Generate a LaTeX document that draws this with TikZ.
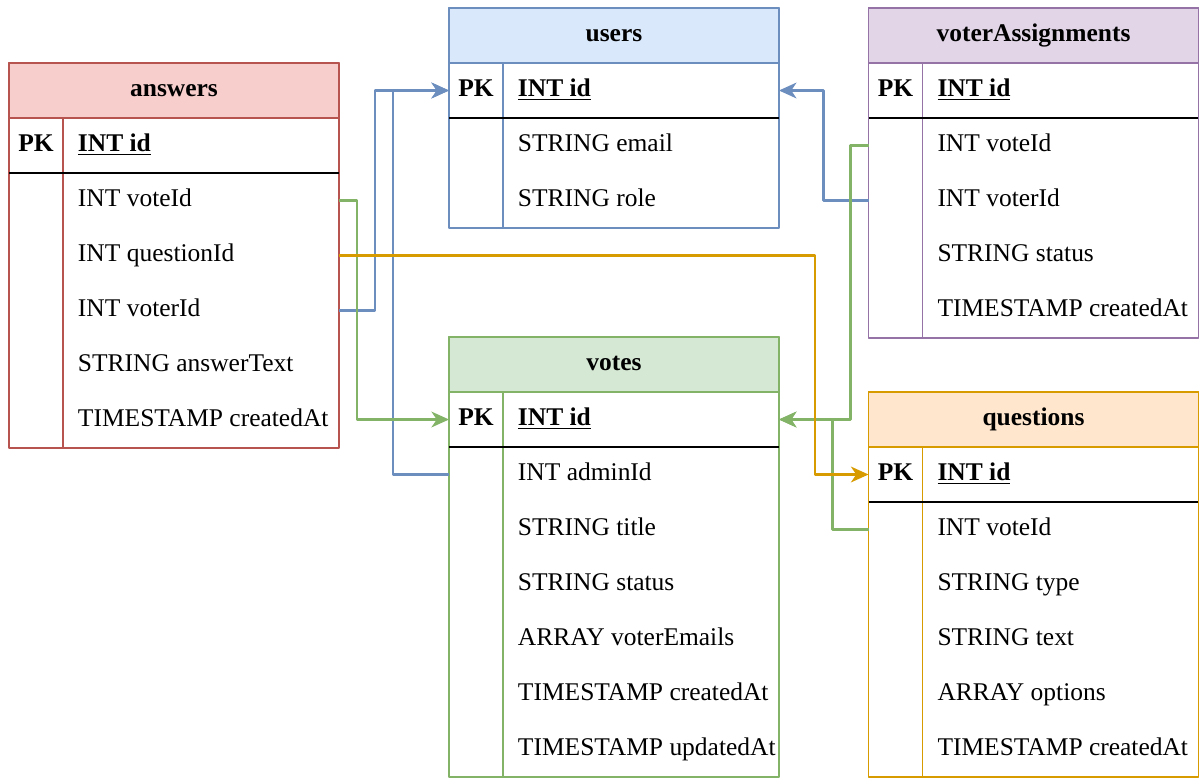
\documentclass[tikz,border=0pt]{standalone}
\usepackage{fontspec}
\setmainfont{Liberation Serif}
\usetikzlibrary{positioning,arrows.meta}

% Table colours
\definecolor{redfill}{HTML}{F8CECC}
\definecolor{redline}{HTML}{B85450}
\definecolor{bluefill}{HTML}{DAE8FC}
\definecolor{blueline}{HTML}{6C8EBF}
\definecolor{purplefill}{HTML}{E1D5E7}
\definecolor{purpleline}{HTML}{9673A6}
\definecolor{greenfill}{HTML}{D5E8D4}
\definecolor{greenline}{HTML}{82B366}
\definecolor{orangefill}{HTML}{FFE6CC}
\definecolor{orangeline}{HTML}{D79B00}

\def\tabfont{\fontsize{14.5}{17}\selectfont}
\def\fieldtext#1{\makebox[4.92cm][l]{#1}}

\begin{document}
\begin{tikzpicture}%ER diagram of the voting app
  [x=0.02cm,y=-0.02cm,line join=round,
   % Styles
   every node/.style={outer sep=0pt,text height=10pt,text depth=3pt},
   header/.style={draw,line width=1pt,minimum width=6.6cm,minimum height=1.1cm,
     inner sep=0pt,font=\tabfont\bfseries,anchor=south west},
   keycell/.style={minimum width=1.08cm,minimum height=1.1cm,inner sep=0pt,font=\tabfont\bfseries},
   fieldcell/.style={minimum height=1.1cm,inner xsep=0.3cm,inner ysep=0pt,font=\tabfont},
   frame/.style={line width=1pt},
   key line/.style={line width=1.1pt,black},
   link/.style={line width=1.2pt,-{Stealth[length=10pt,width=9pt,inset=3pt]}}]

  \useasboundingbox (0,0) rectangle (1200,778);

  % answers
  \node[keycell] (answers-key) at (36,145.5) {PK};
  \node[fieldcell,right=0pt of answers-key] (answers-id) {\fieldtext{\textbf{\underline{INT id}}}};
  \foreach \f/\n [remember=\n as \prev (initially id)] in
    {INT voteId/voteId, INT questionId/questionId, INT voterId/voterId,
     STRING answerText/answerText, TIMESTAMP createdAt/createdAt}
    \node[fieldcell,below=0pt of answers-\prev] (answers-\n) {\fieldtext{\f}};
  \node[header,fill=redfill,draw=redline] (answers) at (answers-key.north west) {answers};
  \draw[frame,redline] (answers.north west) rectangle (answers-createdAt.south east);
  \draw[frame,redline] (answers-key.north east) -- (answers-key.north east |- answers-createdAt.south);
  \draw[key line] (answers-key.south west) -- (answers-id.south east);

  % users
  \node[keycell] (users-key) at (476,90.5) {PK};
  \node[fieldcell,right=0pt of users-key] (users-id) {\fieldtext{\textbf{\underline{INT id}}}};
  \foreach \f/\n [remember=\n as \prev (initially id)] in
    {STRING email/email, STRING role/role}
    \node[fieldcell,below=0pt of users-\prev] (users-\n) {\fieldtext{\f}};
  \node[header,fill=bluefill,draw=blueline] (users) at (users-key.north west) {users};
  \draw[frame,blueline] (users.north west) rectangle (users-role.south east);
  \draw[frame,blueline] (users-key.north east) -- (users-key.north east |- users-role.south);
  \draw[key line] (users-key.south west) -- (users-id.south east);

  % voterAssignments
  \node[keycell] (voterAssignments-key) at (895.5,90.5) {PK};
  \node[fieldcell,right=0pt of voterAssignments-key] (voterAssignments-id) {\fieldtext{\textbf{\underline{INT id}}}};
  \foreach \f/\n [remember=\n as \prev (initially id)] in
    {INT voteId/voteId, INT voterId/voterId, STRING status/status, TIMESTAMP createdAt/createdAt}
    \node[fieldcell,below=0pt of voterAssignments-\prev] (voterAssignments-\n) {\fieldtext{\f}};
  \node[header,fill=purplefill,draw=purpleline] (voterAssignments) at (voterAssignments-key.north west) {voterAssignments};
  \draw[frame,purpleline] (voterAssignments.north west) rectangle (voterAssignments-createdAt.south east);
  \draw[frame,purpleline] (voterAssignments-key.north east) -- (voterAssignments-key.north east |- voterAssignments-createdAt.south);
  \draw[key line] (voterAssignments-key.south west) -- (voterAssignments-id.south east);

  % votes
  \node[keycell] (votes-key) at (476,419.5) {PK};
  \node[fieldcell,right=0pt of votes-key] (votes-id) {\fieldtext{\textbf{\underline{INT id}}}};
  \foreach \f/\n [remember=\n as \prev (initially id)] in
    {INT adminId/adminId, STRING title/title, STRING status/status, ARRAY voterEmails/voterEmails,
     TIMESTAMP createdAt/createdAt, TIMESTAMP updatedAt/updatedAt}
    \node[fieldcell,below=0pt of votes-\prev] (votes-\n) {\fieldtext{\f}};
  \node[header,fill=greenfill,draw=greenline] (votes) at (votes-key.north west) {votes};
  \draw[frame,greenline] (votes.north west) rectangle (votes-updatedAt.south east);
  \draw[frame,greenline] (votes-key.north east) -- (votes-key.north east |- votes-updatedAt.south);
  \draw[key line] (votes-key.south west) -- (votes-id.south east);

  % questions
  \node[keycell] (questions-key) at (895.5,474.5) {PK};
  \node[fieldcell,right=0pt of questions-key] (questions-id) {\fieldtext{\textbf{\underline{INT id}}}};
  \foreach \f/\n [remember=\n as \prev (initially id)] in
    {INT voteId/voteId, STRING type/type, STRING text/text, ARRAY options/options,
     TIMESTAMP createdAt/createdAt}
    \node[fieldcell,below=0pt of questions-\prev] (questions-\n) {\fieldtext{\f}};
  \node[header,fill=orangefill,draw=orangeline] (questions) at (questions-key.north west) {questions};
  \draw[frame,orangeline] (questions.north west) rectangle (questions-createdAt.south east);
  \draw[frame,orangeline] (questions-key.north east) -- (questions-key.north east |- questions-createdAt.south);
  \draw[key line] (questions-key.south west) -- (questions-id.south east);

  % Foreign keys -> users.id
  \draw[link,blueline] (answers-voterId.east) -- ++(36,0) |- (users-key.west);
  \draw[link,blueline] (votes-adminId -| votes.west) -- ++(-56,0) |- (users-key.west);
  \draw[link,blueline] (voterAssignments-voterId -| voterAssignments.west) -- ++(-45,0) |- (users-id.east);

  % Foreign keys -> votes.id
  \draw[link,greenline] (answers-voteId.east) -- ++(18,0) |- (votes-key.west);
  \draw[link,greenline] (voterAssignments-voteId -| voterAssignments.west) -- ++(-18,0) |- (votes-id.east);
  \draw[link,greenline] (questions-voteId -| questions.west) -- ++(-36,0) |- (votes-id.east);

  % Foreign key -> questions.id
  \draw[link,orangeline] (answers-questionId.east) -- ++(476,0) |- (questions-key.west);
\end{tikzpicture}
\end{document}
